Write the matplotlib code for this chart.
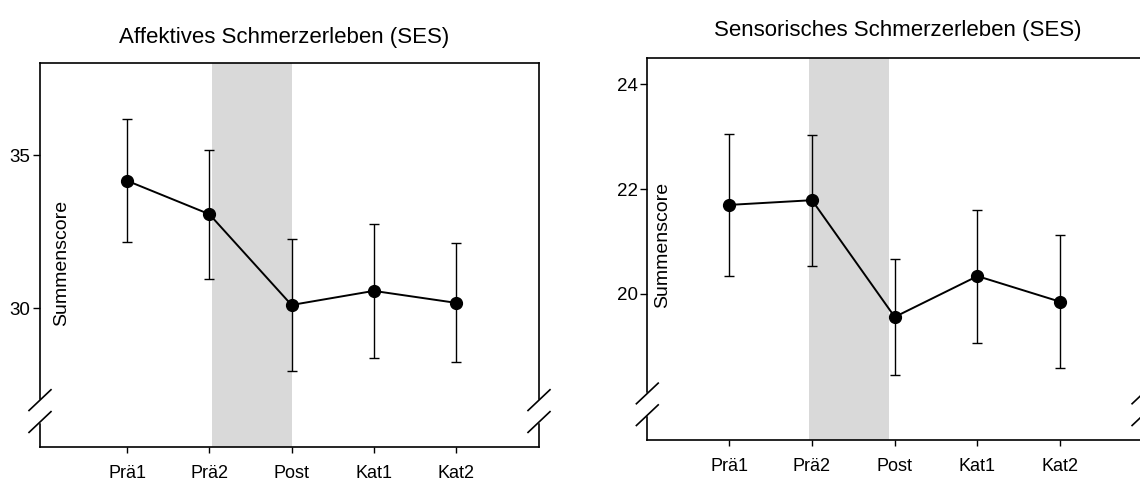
import matplotlib
matplotlib.use("Agg")
import matplotlib.pyplot as plt
import numpy as np

plt.rcParams['font.family'] = ['Liberation Sans', 'DejaVu Sans']

# Messzeitpunkte
zeitpunkte = ["Prä1", "Prä2", "Post", "Kat1", "Kat2"]

# Affektives Schmerzerleben (SES): Mittelwerte und Fehlerbalken
affektiv_mw = [34.16, 33.07, 30.11, 30.57, 30.18]
affektiv_err = [2.0, 2.1, 2.15, 2.19, 1.94]

# Sensorisches Schmerzerleben (SES)
sensorisch_mw = [21.70, 21.79, 19.56, 20.34, 19.85]
sensorisch_err = [1.35, 1.25, 1.10, 1.27, 1.27]

panels = [
    dict(title="Affektives Schmerzerleben (SES)", mw=affektiv_mw, err=affektiv_err,
         yticks=[30, 35], ylim=(25.48, 38.01), xlim=(-1.06, 5.01), span=(1.03, 2.0),
         pos=[40/1140, 1-447/484, 499/1140, 384.3/484],
         title_xy=(284/1140, 1-43/484), ylab_x=0.044, ylab_y=0.48),
    dict(title="Sensorisches Schmerzerleben (SES)", mw=sensorisch_mw, err=sensorisch_err,
         yticks=[20, 22, 24], ylim=(17.21, 24.5), xlim=(-0.99, 5.0), span=(0.96, 1.93),
         pos=[647.3/1140, 1-440/484, 495.7/1140, 381.7/484],
         title_xy=(898/1140, 1-36/484), ylab_x=0.03, ylab_y=0.51),
]

fig = plt.figure(figsize=(11.4, 4.84), dpi=100)

for p in panels:
    ax = fig.add_axes(p["pos"])
    x = np.arange(len(zeitpunkte))
    ax.axvspan(*p["span"], color="#d9d9d9", lw=0, zorder=0)
    ax.errorbar(x, p["mw"], yerr=p["err"], fmt="none", ecolor="black",
                elinewidth=1.0, capsize=3.6, capthick=1.0, zorder=2)
    ax.plot(x, p["mw"], color="black", lw=1.4, marker="o", markersize=8.5,
            markerfacecolor="black", zorder=3)
    ax.set_xlim(*p["xlim"])
    ax.set_ylim(*p["ylim"])
    ax.set_xticks(x)
    ax.set_xticklabels(zeitpunkte)
    ax.set_yticks(p["yticks"])
    ax.tick_params(axis="x", direction="out", length=4.3, width=1.0, pad=9, labelsize=13)
    ax.tick_params(axis="y", direction="out", length=5, width=1.0, pad=2, labelsize=13.5)
    for s in ax.spines.values():
        s.set_linewidth(1.2)
    ax.text(p["ylab_x"], p["ylab_y"], "Summenscore", rotation=90, transform=ax.transAxes,
            ha="center", va="center", fontsize=14)

    # Achsenbruch links und rechts
    for xs in (0, 1):
        ax.plot([xs, xs], [0.068, 0.12], transform=ax.transAxes, color="white",
                lw=2.5, clip_on=False, zorder=5)
        for yc in (0.122, 0.065):
            ax.plot([xs-0.022, xs+0.022], [yc-0.027, yc+0.027], transform=ax.transAxes,
                    color="black", lw=1.2, clip_on=False, zorder=6)

    fig.text(*p["title_xy"], p["title"], ha="center", va="baseline", fontsize=16)

fig.savefig("out.png", dpi=100)
